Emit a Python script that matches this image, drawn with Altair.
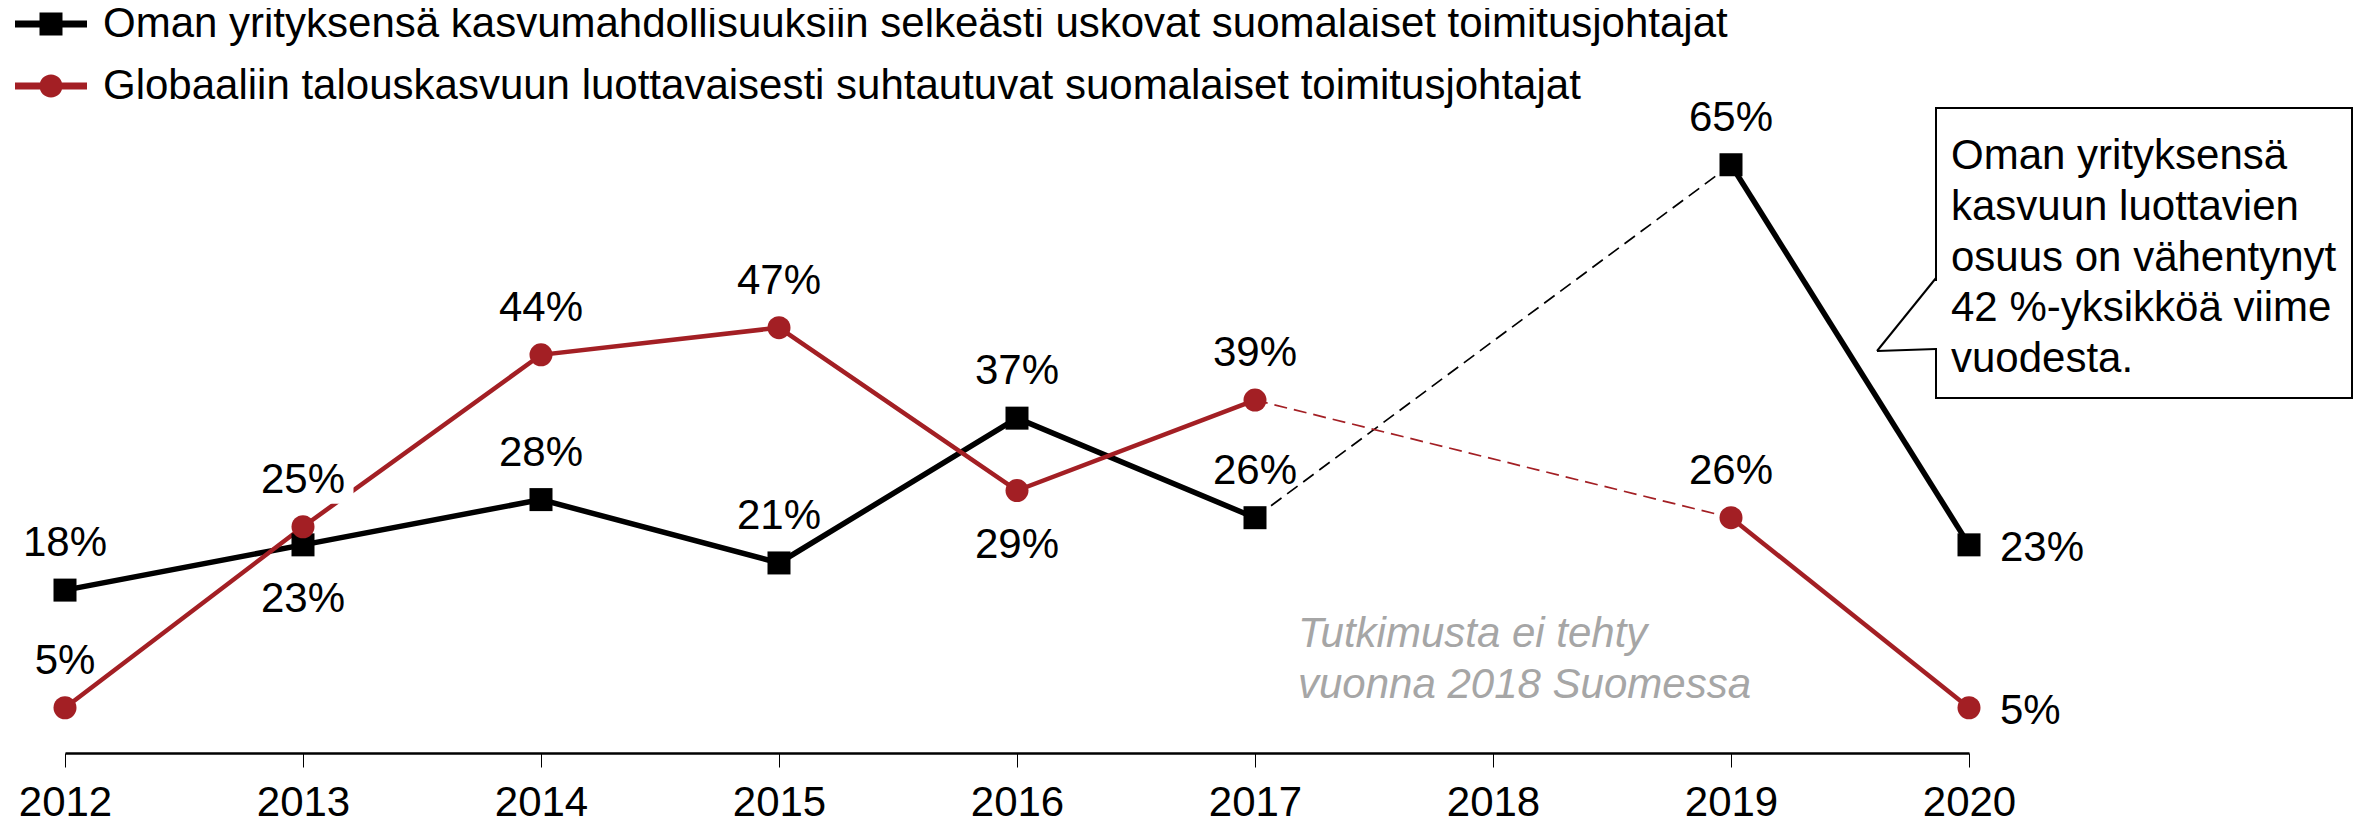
import altair as alt
import pandas as pd

# ---- data ----
years = [2012, 2013, 2014, 2015, 2016, 2017, 2019, 2020]
tick_years = [2012, 2013, 2014, 2015, 2016, 2017, 2018, 2019, 2020]
own_growth = [18, 23, 28, 21, 37, 26, 65, 23]        # black series, %
global_growth = [5, 25, 44, 47, 29, 39, 26, 5]       # red series, %
series_names = [
    "Oman yrityksensä kasvumahdollisuuksiin selkeästi uskovat suomalaiset toimitusjohtajat",
    "Globaaliin talouskasvuun luottavaisesti suhtautuvat suomalaiset toimitusjohtajat",
]
series_keys = ["own", "global"]
note_lines = ["Tutkimusta ei tehty", "vuonna 2018 Suomessa"]
callout_lines = [
    "Oman yrityksensä",
    "kasvuun luottavien",
    "osuus on vähentynyt",
    "42 %-yksikköä viime",
    "vuodesta.",
]

BLACK = "#000000"
RED = "#A31F24"
FONT = "Liberation Sans"
FS = 42

rows = []
for name, key, vals in zip(series_names, series_keys, [own_growth, global_growth]):
    for y, v in zip(years, vals):
        rows.append({
            "year": y, "value": v, "series": name, "key": key,
            "label": f"{v}%",
            "seg": key + ("_a" if y <= 2017 else "_b"),
        })
df = pd.DataFrame(rows)

base = alt.Chart(df)

x_enc = alt.X(
    "year:Q",
    scale=alt.Scale(domain=[2012, 2020], nice=False, zero=False),
    axis=alt.Axis(
        values=tick_years, format="d", title=None, grid=False,
        domainColor=BLACK, domainWidth=2.5, tickColor=BLACK, tickWidth=1,
        tickSize=14, labelFontSize=FS, labelFont=FONT, labelColor=BLACK,
        labelPadding=15, labelFlush=False, labelOverlap=False,
    ),
)
y_enc = alt.Y("value:Q", scale=alt.Scale(domain=[0, 80], nice=False), axis=None)

own = "datum.key == 'own'"
glob = "datum.key == 'global'"
gap_years = "(datum.year == 2017 || datum.year == 2019)"

solid_own = base.transform_filter(own).mark_line(color=BLACK, strokeWidth=5.5).encode(
    x=x_enc, y=y_enc, detail="seg:N")
solid_glob = base.transform_filter(glob).mark_line(color=RED, strokeWidth=4.5).encode(
    x=x_enc, y=y_enc, detail="seg:N")
dash_own = base.transform_filter(f"{own} && {gap_years}").mark_line(
    color=BLACK, strokeWidth=1.7, strokeDash=[13, 7]).encode(x=x_enc, y=y_enc)
dash_glob = base.transform_filter(f"{glob} && {gap_years}").mark_line(
    color=RED, strokeWidth=1.7, strokeDash=[13, 7]).encode(x=x_enc, y=y_enc)

squares = base.transform_filter(own).mark_point(
    shape="square", filled=True, size=529, opacity=1, color=BLACK
).encode(x=x_enc, y=y_enc)
circles = base.transform_filter(glob).mark_point(
    shape="circle", filled=True, size=529, opacity=1, color=RED
).encode(x=x_enc, y=y_enc)

# legend-only layer (points fully transparent), symbols = line + marker
legend_paths = [
    "M-1.5,-0.146L1.5,-0.146L1.5,0.146L-1.5,0.146Z M-0.479,-0.479L0.479,-0.479L0.479,0.479L-0.479,0.479Z",
    "M-1.5,-0.146L1.5,-0.146L1.5,0.146L-1.5,0.146Z M-0.479,0A0.479,0.479 0 1,1 0.479,0A0.479,0.479 0 1,1 -0.479,0Z",
]
leg_kw = dict(
    orient="none", legendX=-38, legendY=-29, direction="vertical",
    symbolSize=2304, symbolStrokeWidth=0, labelFontSize=FS, labelFont=FONT,
    labelColor=BLACK, labelLimit=3000, labelOffset=28, rowPadding=17,
    padding=0, symbolOpacity=1,
)
legend_layer = base.mark_point(filled=True, opacity=0, size=1).encode(
    x=x_enc, y=y_enc,
    color=alt.Color("series:N", scale=alt.Scale(domain=series_names, range=[BLACK, RED]),
                    title=None, legend=alt.Legend(**leg_kw)),
    shape=alt.Shape("series:N", scale=alt.Scale(domain=series_names, range=legend_paths),
                    title=None, legend=alt.Legend(**leg_kw)),
)

below_expr = "(datum.key == 'own' && datum.year == 2013) || (datum.key == 'global' && datum.year == 2016)"
right_expr = "datum.year == 2020"

# white mask behind the 2013 red label (as in the reference)
mask = base.transform_filter("datum.key == 'global' && datum.year == 2013").mark_rect(
    color="white", width=85, height=44, xOffset=8, yOffset=-45
).encode(x=x_enc, y=y_enc)

txt_kw = dict(font=FONT, fontSize=FS, color=BLACK)
lab_above = base.transform_filter(f"!({below_expr}) && !({right_expr})").mark_text(
    baseline="middle", align="center", dy=-47, **txt_kw
).encode(x=x_enc, y=y_enc, text="label:N")
lab_below = base.transform_filter(below_expr).mark_text(
    baseline="middle", align="center", dy=54, **txt_kw
).encode(x=x_enc, y=y_enc, text="label:N")
lab_right = base.transform_filter(right_expr).mark_text(
    baseline="middle", align="left", dx=31, dy=3, **txt_kw
).encode(x=x_enc, y=y_enc, text="label:N")

note = alt.Chart(pd.DataFrame({"t": [note_lines]})).mark_text(
    font=FONT, fontSize=FS, fontStyle="italic", color="#A6A6A6", align="left",
    baseline="middle", lineHeight=51,
).encode(x=alt.value(1233), y=alt.value(605), text="t")

# callout box with pointer
one = pd.DataFrame({"a": [0]})
box = alt.Chart(one).mark_rect(
    fill="white", stroke=BLACK, strokeWidth=2
).encode(x=alt.value(1871), x2=alt.value(2287), y=alt.value(79), y2=alt.value(369))
gap = alt.Chart(one).mark_rule(color="white", strokeWidth=4).encode(
    x=alt.value(1871), x2=alt.value(1871), y=alt.value(252), y2=alt.value(319))
ptr1 = alt.Chart(one).mark_rule(color=BLACK, strokeWidth=2).encode(
    x=alt.value(1812), x2=alt.value(1871), y=alt.value(322), y2=alt.value(249))
ptr2 = alt.Chart(one).mark_rule(color=BLACK, strokeWidth=2).encode(
    x=alt.value(1812), x2=alt.value(1871), y=alt.value(322), y2=alt.value(320))
callout = alt.Chart(pd.DataFrame({"t": [callout_lines]})).mark_text(
    font=FONT, fontSize=FS, color=BLACK, align="left", baseline="middle", lineHeight=50.75,
).encode(x=alt.value(1886), y=alt.value(127), text="t")

chart = alt.layer(
    legend_layer, solid_own, solid_glob, dash_own, dash_glob, squares, circles, mask,
    lab_above, lab_below, lab_right, note, box, gap, ptr1, ptr2, callout,
).properties(
    width=1904, height=724,
    padding={"left": 57, "top": 21, "right": 387, "bottom": 66},
    autosize=alt.AutoSizeParams(type="none"),
    background="white",
).configure_view(stroke=None)

chart.save("out.html", embed_options={"renderer": "svg", "actions": False})
